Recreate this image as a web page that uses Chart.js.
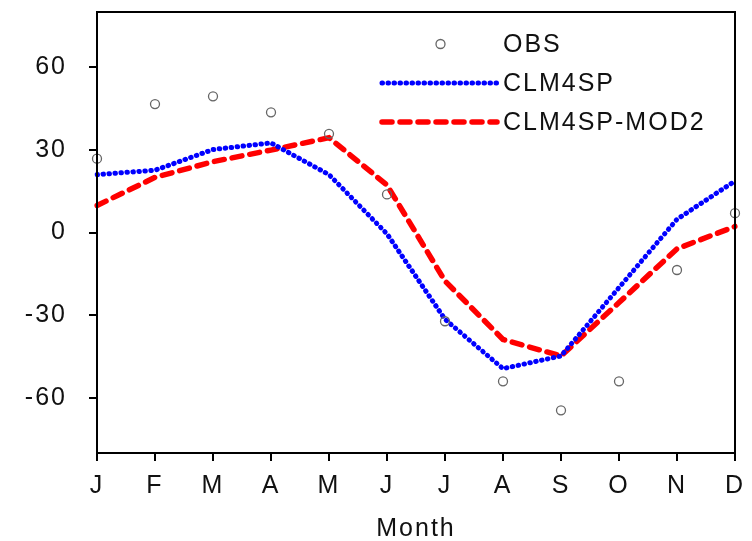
<!DOCTYPE html>
<html>
<head>
<meta charset="utf-8">
<script src="https://cdn.jsdelivr.net/npm/chart.js@4.4.1/dist/chart.umd.min.js"></script>
<style>
  html, body { margin: 0; background: #fff; }
  #wrap { width: 752px; height: 541px; }
</style>
</head>
<body>
<div id="wrap"><canvas id="chart"></canvas></div>
<script>
const months = ['J', 'F', 'M', 'A', 'M', 'J', 'J', 'A', 'S', 'O', 'N', 'D'];
const obs = [26.8, 46.6, 49.4, 43.6, 35.8, 13.8, -32.2, -54, -64.5, -54, -13.6, 7.0];
const clm4sp = [21, 22.6, 30.1, 32.5, 21, -0.5, -31.5, -49.4, -44.8, -20, 4.8, 18.7];
const clm4spMod2 = [9.8, 20, 25.7, 29.9, 34.4, 17.2, -17.6, -38.8, -44.8, -25.4, -5.9, 2.2];
const yTicks = [-60, -30, 0, 30, 60];

Chart.defaults.font.family = '"Liberation Sans", Arial, sans-serif';
Chart.defaults.font.size = 25;
Chart.defaults.color = '#111';

// the original lettering is a little wider than Arial
const spacing = {
  id: 'spacing',
  beforeDraw(chart) { chart.ctx.letterSpacing = '2px'; }
};

// box round the plot area
const frame = {
  id: 'frame',
  afterDatasetsDraw(chart) {
    const { ctx, chartArea: a } = chart;
    ctx.save();
    ctx.strokeStyle = '#000';
    ctx.lineWidth = 2;
    ctx.strokeRect(a.left, a.top, a.right - a.left, a.bottom - a.top);
    ctx.restore();
  }
};

// legend drawn inside the plot, upper right
const insideLegend = {
  id: 'insideLegend',
  afterDraw(chart) {
    const { ctx, chartArea: a } = chart;
    const x0 = a.right - 353, x1 = a.right - 238, tx = a.right - 232;
    chart.data.datasets.forEach((ds, i) => {
      const y = a.top + 32 + i * 39;
      ctx.save();
      if (ds.showLine === false) {
        ctx.beginPath();
        ctx.arc((x0 + x1) / 2 + 1, y, ds.pointRadius, 0, Math.PI * 2);
        ctx.strokeStyle = ds.borderColor;
        ctx.lineWidth = ds.borderWidth;
        ctx.stroke();
      } else {
        ctx.beginPath();
        ctx.moveTo(x0, y);
        ctx.lineTo(x1, y);
        ctx.strokeStyle = ds.borderColor;
        ctx.lineWidth = ds.borderWidth;
        ctx.lineCap = ds.borderCapStyle;
        ctx.setLineDash(ds.borderDash);
        ctx.stroke();
      }
      ctx.setLineDash([]);
      ctx.fillStyle = '#111';
      ctx.font = '25px "Liberation Sans", Arial, sans-serif';
      ctx.textBaseline = 'middle';
      ctx.fillText(ds.label, tx, y + 1);
      ctx.restore();
    });
  }
};

new Chart(document.getElementById('chart'), {
  type: 'line',
  data: {
    labels: months,
    datasets: [
      { label: 'OBS', data: obs, showLine: false, pointStyle: 'circle', pointRadius: 4.5,
        pointBorderWidth: 1.3, borderWidth: 1.3, borderColor: '#666', pointBorderColor: '#666',
        backgroundColor: 'rgba(0,0,0,0)', pointBackgroundColor: 'rgba(0,0,0,0)' },
      { label: 'CLM4SP', data: clm4sp, borderColor: '#0000ff', borderWidth: 5,
        borderDash: [0.5, 5.5], borderCapStyle: 'round', pointRadius: 0, tension: 0, fill: false },
      { label: 'CLM4SP-MOD2', data: clm4spMod2, borderColor: '#ff0000', borderWidth: 5.5,
        borderDash: [10, 8], borderCapStyle: 'round', pointRadius: 0, tension: 0, fill: false }
    ]
  },
  options: {
    responsive: true,
    maintainAspectRatio: false,
    animation: false,
    layout: { padding: { top: 12, right: 17, left: 0, bottom: 0 } },
    plugins: { legend: { display: false }, tooltip: { enabled: false } },
    scales: {
      x: {
        offset: false,
        grid: { drawOnChartArea: false, drawTicks: true, tickLength: 8, color: '#000', lineWidth: 2 },
        border: { display: false },
        ticks: { padding: 10, maxRotation: 0, autoSkip: false, color: '#111' },
        title: { display: true, text: 'Month', color: '#111', font: { size: 25 }, padding: { top: 0, bottom: -3 } },
        afterFit(scale) { scale.height = 88; scale.paddingLeft = 0; scale.paddingRight = 0; }
      },
      y: {
        min: -80,
        max: 80,
        afterBuildTicks(scale) { scale.ticks = yTicks.map(v => ({ value: v })); },
        grid: { drawOnChartArea: false, drawTicks: true, tickLength: 8, color: '#000', lineWidth: 2 },
        border: { display: false },
        ticks: { padding: 22, color: '#111' },
        afterFit(scale) { scale.width = 97; scale.paddingTop = 0; scale.paddingBottom = 0; }
      }
    }
  },
  plugins: [spacing, frame, insideLegend]
});
</script>
</body>
</html>
